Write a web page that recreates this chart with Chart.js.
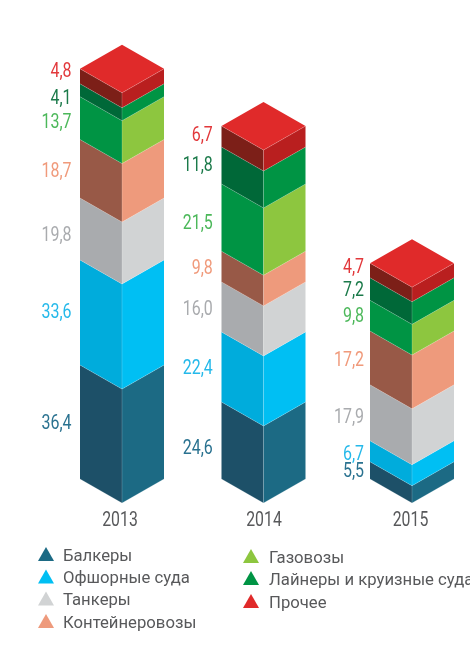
<!DOCTYPE html>
<html>
<head>
<meta charset="utf-8">
<style>
  body { margin: 0; background: #fff; }
  canvas { display: block; }
</style>
<script src="https://cdn.jsdelivr.net/npm/chart.js@4"></script>
</head>
<body>
<canvas id="fleetChart" width="470" height="651"></canvas>
<script>
const years = ['2013', '2014', '2015'];
const seriesNames = ['Балкеры', 'Офшорные суда', 'Танкеры', 'Контейнеровозы', 'Газовозы', 'Лайнеры и круизные суда', 'Прочее'];

const bulkers = [36.4, 24.6, 5.5];
const offshore = [33.6, 22.4, 6.7];
const tankers = [19.8, 16.0, 17.9];
const containers = [18.7, 9.8, 17.2];
const gasCarriers = [13.7, 21.5, 9.8];
const liners = [4.1, 11.8, 7.2];
const other = [4.8, 6.7, 4.7];
const seriesValues = [bulkers, offshore, tankers, containers, gasCarriers, liners, other];

const leftColors = ['#1d5068', '#00acdc', '#a9abae', '#985947', '#009444', '#006838', '#7c1f18'];
const rightColors = ['#1c6a84', '#00bff3', '#d1d3d4', '#ee9a7c', '#8dc63f', '#009444', '#b91f1f'];
const labelColors = ['#2a7290', '#25b9ea', '#a9abae', '#f09a7b', '#4cb85a', '#1b7a4a', '#e2383b'];
const legendColors = ['#1c6a84', '#00bff3', '#d1d3d4', '#ee9a7c', '#8dc63f', '#009444', '#e02a2a'];
const topColor = '#e02a2a';

// the columns are not evenly spaced in the original
const xNudge = [0, -3.5, 0];
const yearNudge = [-2, 0.5, -1.5];
const labelGap = [8.5, 8.7, 6];
// labels are pushed off the segment middle where they would collide
const labelNudge = [
    [0, -1, 5, 1, 3, 7, -6],
    [7, 0, 1, 1, 5, -1, -2],
    [0, 2, 3, 1, 0, 0, -4]
];

const halfWidth = 42;
const rise = 24;

class NudgedCategory extends Chart.CategoryScale {
    getPixelForValue(value, index) {
        const px = super.getPixelForValue(value, index);
        const i = typeof value === 'number' ? value : this.parse(value);
        return px + (xNudge[i] || 0);
    }
}
NudgedCategory.id = 'nudgedCategory';
NudgedCategory.defaults = Chart.CategoryScale.defaults;
Chart.register(NudgedCategory);

function face(ctx, points, color) {
    ctx.beginPath();
    points.forEach((p, i) => i ? ctx.lineTo(p[0], p[1]) : ctx.moveTo(p[0], p[1]));
    ctx.closePath();
    ctx.fillStyle = color;
    ctx.fill();
}

function seam(ctx, points) {
    ctx.beginPath();
    points.forEach((p, i) => i ? ctx.lineTo(p[0], p[1]) : ctx.moveTo(p[0], p[1]));
    ctx.strokeStyle = 'rgba(255,255,255,0.3)';
    ctx.lineWidth = 0.6;
    ctx.stroke();
}

// no condensed font is installed, so squeeze Roboto sideways
function narrowText(ctx, text, x, y, squeeze) {
    ctx.save();
    ctx.translate(x, y);
    ctx.scale(squeeze, 1);
    ctx.fillText(text, 0, 0);
    ctx.restore();
}

const isoColumns = {
    id: 'isoColumns',
    beforeDatasetsDraw(chart) {
        const ctx = chart.ctx;
        ctx.save();
        seriesValues.forEach((values, s) => {
            chart.getDatasetMeta(s).data.forEach(bar => {
                const x = bar.x, top = bar.y, base = bar.base;
                const l = x - halfWidth, r = x + halfWidth;
                face(ctx, [[l, top], [x, top + rise], [x, base + rise], [l, base]], leftColors[s]);
                face(ctx, [[x, top + rise], [r, top], [r, base], [x, base + rise]], rightColors[s]);
                seam(ctx, [[x, top + rise], [x, base + rise]]);
                seam(ctx, [[l, base], [x, base + rise], [r, base]]);
                if (s === seriesValues.length - 1) {
                    face(ctx, [[l, top], [x, top - rise], [r, top], [x, top + rise]], topColor);
                    seam(ctx, [[l, top], [x, top + rise], [r, top]]);
                }
            });
        });
        // value labels left of each column
        ctx.font = '400 21px Roboto';
        ctx.textAlign = 'right';
        ctx.textBaseline = 'middle';
        seriesValues.forEach((values, s) => {
            chart.getDatasetMeta(s).data.forEach((bar, i) => {
                ctx.fillStyle = labelColors[s];
                const y = (bar.y + bar.base) / 2 + labelNudge[i][s] + 1.5;
                narrowText(ctx, values[i].toFixed(1).replace('.', ','), bar.x - halfWidth - labelGap[i], y, 0.76);
            });
        });
        // year labels under the columns
        const xScale = chart.scales.x;
        ctx.font = '400 20px Roboto';
        ctx.textAlign = 'center';
        ctx.fillStyle = '#58595b';
        years.forEach((year, i) => {
            narrowText(ctx, year, xScale.getPixelForTick(i) + yearNudge[i], 521, 0.79);
        });
        ctx.restore();
        return false;
    },
    afterDraw(chart) {
        // two column legend with triangle markers
        const ctx = chart.ctx;
        const rows = [
            [38, 63, 561], [38, 63, 583.5], [38, 63, 605.5], [38, 63, 628],
            [243, 269, 563], [243, 269, 585], [243, 269, 608]
        ];
        ctx.save();
        ctx.font = '16.7px Roboto';
        ctx.textAlign = 'left';
        ctx.textBaseline = 'middle';
        seriesNames.forEach((name, s) => {
            const [tx, lx, by] = rows[s];
            face(ctx, [[tx, by], [tx + 8, by - 14], [tx + 16, by]], legendColors[s]);
            ctx.fillStyle = '#58595b';
            ctx.fillText(name, lx, by - 4.5);
        });
        ctx.restore();
    }
};

const ctx1 = document.getElementById('fleetChart').getContext('2d');
const fleetChart = new Chart(ctx1, {
    type: 'bar',
    data: {
        labels: years,
        datasets: seriesNames.map((name, s) => ({
            label: name,
            data: seriesValues[s],
            backgroundColor: rightColors[s],
            borderWidth: 0
        }))
    },
    options: {
        responsive: false,
        animation: false,
        layout: { padding: { top: 41, left: 122, right: 58, bottom: 0 } },
        plugins: {
            legend: { display: false },
            title: { display: false },
            tooltip: { enabled: false }
        },
        scales: {
            x: {
                type: 'nudgedCategory',
                stacked: true,
                offset: false,
                grid: { display: false },
                border: { display: false },
                ticks: { display: false },
                afterFit(scale) { scale.height = 651 - 479; }
            },
            y: {
                display: false,
                stacked: true,
                min: 0,
                max: 140
            }
        }
    },
    plugins: [isoColumns]
});
</script>
</body>
</html>
